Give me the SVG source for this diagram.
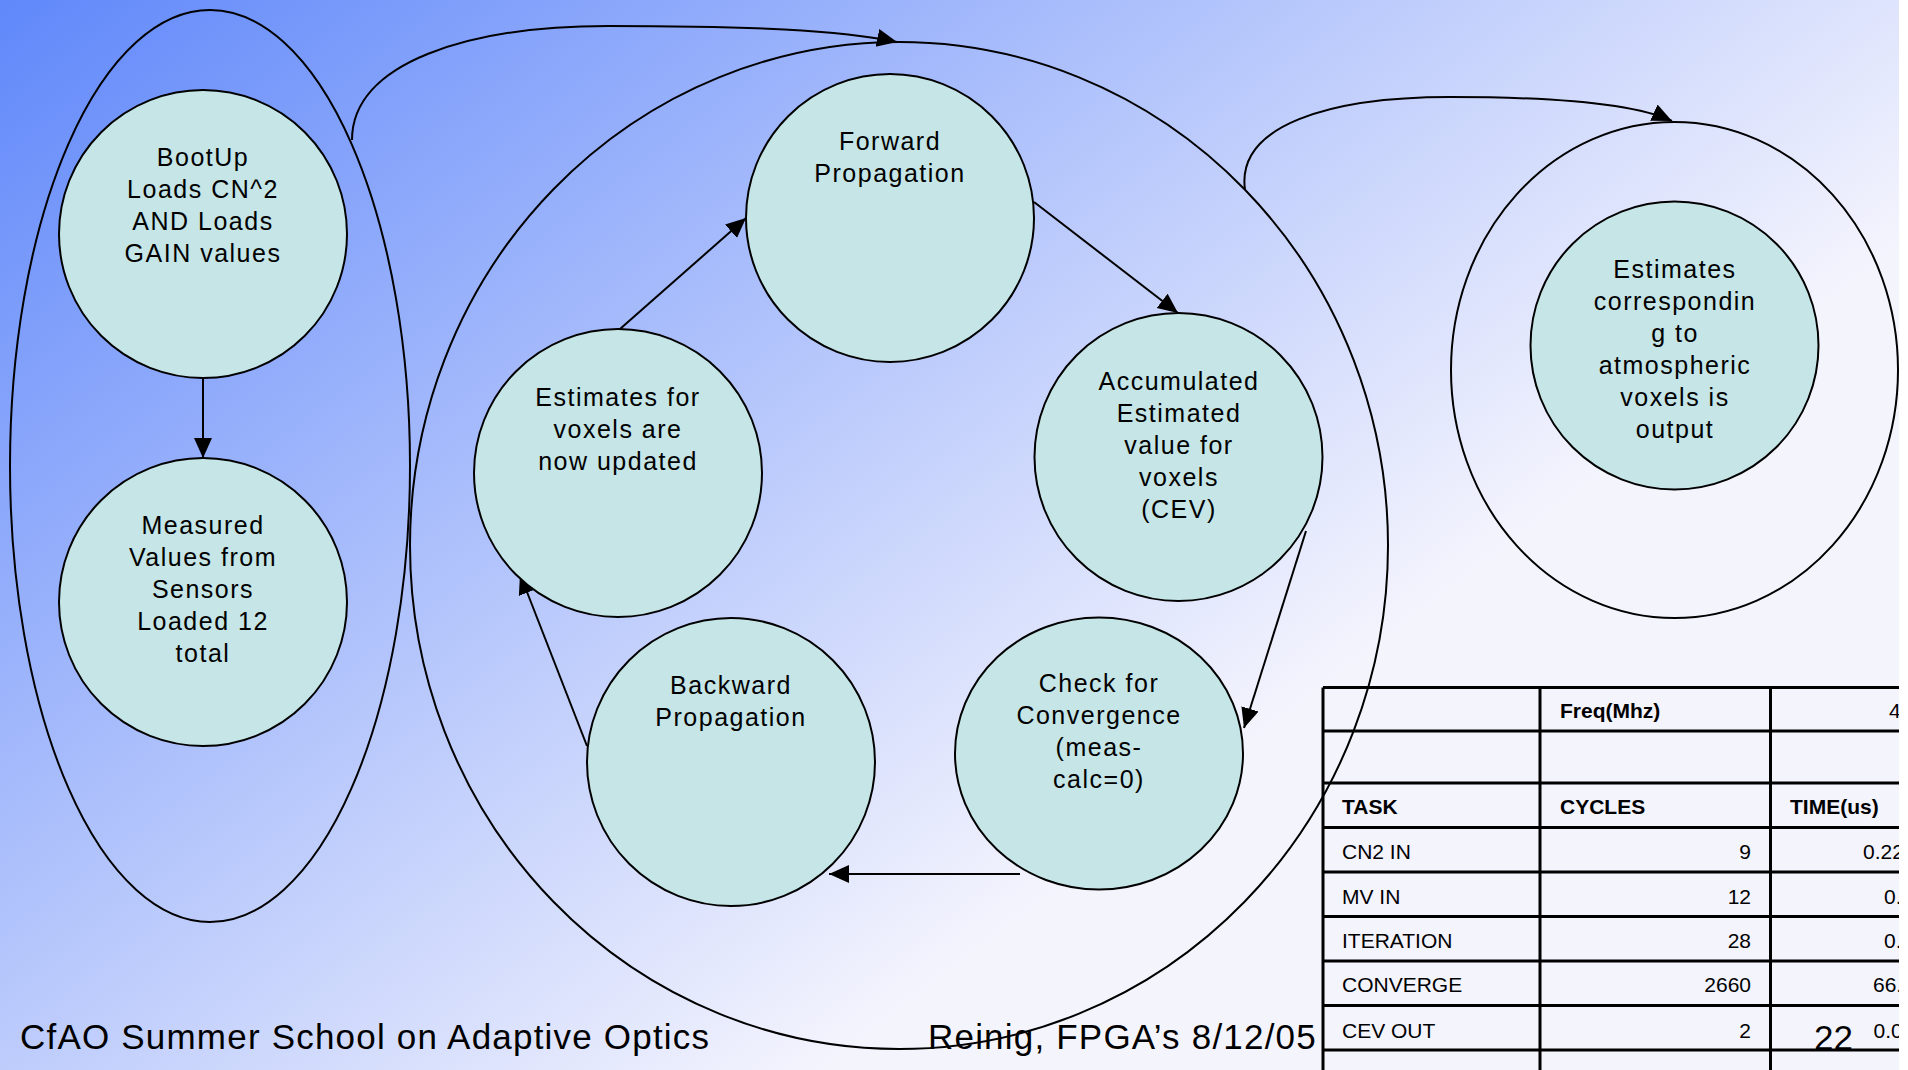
<svg xmlns="http://www.w3.org/2000/svg" width="1908" height="1070" viewBox="0 0 1908 1070">
<defs>
<linearGradient id="bg" gradientUnits="userSpaceOnUse" x1="0" y1="0" x2="818" y2="1071">
<stop offset="0" stop-color="#6088fa"/>
<stop offset="1" stop-color="#f4f4fd"/>
</linearGradient>
<marker id="ah" markerUnits="userSpaceOnUse" markerWidth="20" markerHeight="20" viewBox="0 0 20 20" refX="20" refY="10" orient="auto">
<path d="M0,1 L20,10 L0,19 z" fill="#000"/>
</marker>
<style>
.node{fill:#c5e5e6;stroke:#000;stroke-width:2}
.grp{fill:none;stroke:#000;stroke-width:2}
.edge{fill:none;stroke:#000;stroke-width:2;marker-end:url(#ah)}
.lbl{font-family:"Liberation Sans",Arial,sans-serif;font-size:25px;letter-spacing:1.5px;text-anchor:middle;fill:#000}
.foot{font-family:"Liberation Sans",Arial,sans-serif;font-size:35px;letter-spacing:1.2px;fill:#000}
.tt{font-family:"Liberation Sans",Arial,sans-serif;font-size:21px;fill:#000}
.tb{font-weight:bold}
.num{text-anchor:end}
.grid{stroke:#000;stroke-width:3;fill:none}
</style>
</defs>
<rect x="0" y="0" width="1908" height="1070" fill="url(#bg)"/>

<g id="group-left">
<ellipse class="grp" cx="210" cy="466" rx="200" ry="456"/>
</g>
<g id="group-middle">
<ellipse class="grp" cx="899" cy="545.5" rx="489" ry="503.5"/>
</g>
<g id="group-right">
<ellipse class="grp" cx="1674.5" cy="370" rx="223.5" ry="248"/>
</g>

<g id="connectors">
<path class="edge" d="M352,140 C352,62 470,26 608,26 C 750,26 840,30 897,42"/>
<path class="edge" d="M1245,190 C1236,125 1330,97 1450,97 C1560,97 1635,104 1672,121"/>
<path class="edge" d="M203,378 L203,458"/>
<path class="edge" d="M620,329 L746,218"/>
<path class="edge" d="M1034,202 L1178,313"/>
<path class="edge" d="M1306,531 L1244,728"/>
<path class="edge" d="M1020,874 L829,874"/>
<path class="edge" d="M587,746 L520,574"/>
</g>

<g id="node-bootup">
<circle class="node" cx="203" cy="234" r="144"/>
<text class="lbl" x="203" y="165.5">BootUp</text>
<text class="lbl" x="203" y="197.5">Loads CN^2</text>
<text class="lbl" x="203" y="229.5">AND Loads</text>
<text class="lbl" x="203" y="261.5">GAIN values</text>
</g>
<g id="node-measured">
<circle class="node" cx="203" cy="602" r="144"/>
<text class="lbl" x="203" y="533.5">Measured</text>
<text class="lbl" x="203" y="565.5">Values from</text>
<text class="lbl" x="203" y="597.5">Sensors</text>
<text class="lbl" x="203" y="629.5">Loaded 12</text>
<text class="lbl" x="203" y="661.5">total</text>
</g>
<g id="node-forward">
<circle class="node" cx="890" cy="218" r="144"/>
<text class="lbl" x="890" y="149.5">Forward</text>
<text class="lbl" x="890" y="181.5">Propagation</text>
</g>
<g id="node-updated">
<circle class="node" cx="618" cy="473" r="144"/>
<text class="lbl" x="618" y="405.5">Estimates for</text>
<text class="lbl" x="618" y="437.5">voxels are</text>
<text class="lbl" x="618" y="469.5">now updated</text>
</g>
<g id="node-accumulated">
<circle class="node" cx="1178.5" cy="457" r="144"/>
<text class="lbl" x="1179" y="390">Accumulated</text>
<text class="lbl" x="1179" y="422">Estimated</text>
<text class="lbl" x="1179" y="454">value for</text>
<text class="lbl" x="1179" y="486">voxels</text>
<text class="lbl" x="1179" y="518">(CEV)</text>
</g>
<g id="node-check">
<ellipse class="node" cx="1099" cy="753.5" rx="144" ry="136"/>
<text class="lbl" x="1099" y="692">Check for</text>
<text class="lbl" x="1099" y="724">Convergence</text>
<text class="lbl" x="1099" y="756">(meas-</text>
<text class="lbl" x="1099" y="788">calc=0)</text>
</g>
<g id="node-backward">
<circle class="node" cx="731" cy="762" r="144"/>
<text class="lbl" x="731" y="694">Backward</text>
<text class="lbl" x="731" y="726">Propagation</text>
</g>
<g id="node-output">
<circle class="node" cx="1674.5" cy="345.5" r="144"/>
<text class="lbl" x="1675" y="278">Estimates</text>
<text class="lbl" x="1675" y="310">correspondin</text>
<text class="lbl" x="1675" y="342">g to</text>
<text class="lbl" x="1675" y="374">atmospheric</text>
<text class="lbl" x="1675" y="406">voxels is</text>
<text class="lbl" x="1675" y="438">output</text>
</g>

<g id="table">
<path class="grid" d="M1323,687.5 V1070 M1540,687.5 V1070 M1770.5,687.5 V1070"/>
<path class="grid" d="M1323,687.5 H1899 M1323,731 H1899 M1323,783 H1899 M1323,827.5 H1899 M1323,872 H1899 M1323,916.5 H1899 M1323,961 H1899 M1323,1005.5 H1899 M1323,1050 H1899"/>
<text class="tt tb" x="1560" y="717.5">Freq(Mhz)</text>
<text class="tt" x="1889" y="717.5">4</text>
<text class="tt tb" x="1342" y="813.5">TASK</text>
<text class="tt tb" x="1560" y="813.5">CYCLES</text>
<text class="tt tb" x="1790" y="813.5">TIME(us)</text>
<text class="tt" x="1342" y="858.5">CN2 IN</text>
<text class="tt num" x="1751" y="858.5">9</text>
<text class="tt" x="1863" y="858.5">0.22</text>
<text class="tt" x="1342" y="903.5">MV IN</text>
<text class="tt num" x="1751" y="903.5">12</text>
<text class="tt" x="1884" y="903.5">0.</text>
<text class="tt" x="1342" y="947.5">ITERATION</text>
<text class="tt num" x="1751" y="947.5">28</text>
<text class="tt" x="1884" y="947.5">0.</text>
<text class="tt" x="1342" y="992">CONVERGE</text>
<text class="tt num" x="1751" y="992">2660</text>
<text class="tt" x="1873" y="992">66.</text>
<text class="tt" x="1342" y="1037.5">CEV OUT</text>
<text class="tt num" x="1751" y="1037.5">2</text>
<text class="tt" x="1873.5" y="1037.5">0.0</text>
</g>

<g id="footer">
<text class="foot" x="20" y="1049">CfAO Summer School on Adaptive Optics</text>
<text class="foot" x="928" y="1049">Reinig, FPGA’s 8/12/05</text>
<text class="foot" x="1814" y="1050" style="font-size:35px;letter-spacing:0">22</text>
</g>
<rect x="1899" y="0" width="9" height="1070" fill="#ffffff"/>
</svg>
